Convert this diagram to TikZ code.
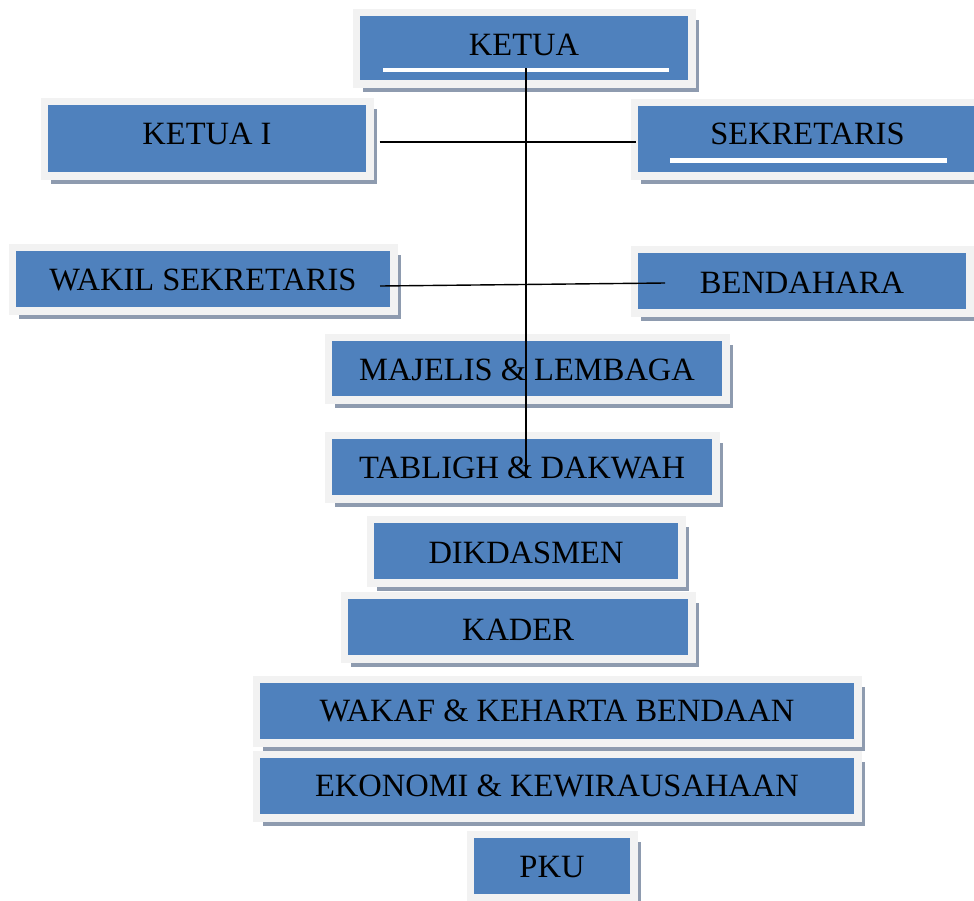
\documentclass[tikz,border=0pt]{standalone}
\usepackage{fontspec}
\usetikzlibrary{shadows}
\newfontfamily\boxfont{Liberation Serif}
\definecolor{boxblue}{HTML}{4F81BD}
\definecolor{framegray}{HTML}{F2F2F2}
\definecolor{shadowgray}{RGB}{142,155,175}
\tikzset{
  ob/.style n args={3}{rectangle, fill=boxblue, draw=framegray, line width=7.5pt,
    inner sep=0pt, minimum width=#1pt, minimum height=#2pt,
    text height=27pt, text depth=#3pt, text=black,
    font={\boxfont\fontsize{32.5}{37}\selectfont},
    general shadow={fill=shadowgray, shadow xshift=7pt, shadow yshift=-8pt}},
  link/.style={draw=black, line width=1.4pt},
  uline/.style={fill=white}
}
\begin{document}
\begin{tikzpicture}[x=1pt,y=-1pt]
\useasboundingbox (0,0) rectangle (974,900);
\node[ob={335.5}{71.5}{11.72}] (ketua) at (524,48) {KETUA};
\node[ob={325.5}{74.5}{15.72}] (ketua1) at (207,138.5) {KETUA I};
\node[ob={346.5}{73.5}{15.72}] (sek) at (807.5,139) {SEKRETARIS};
\node[ob={381.5}{63.5}{3.72}] (wakil) at (203,279) {WAKIL SEKRETARIS};
\node[ob={335.5}{63.5}{2.72}] (bend) at (802,281) {BENDAHARA};
\node[ob={397.5}{62.5}{3.72}] (majelis) at (527,368.5) {MAJELIS \& LEMBAGA};
\node[ob={387.5}{63.5}{3.72}] (tabligh) at (522,467) {TABLIGH \& DAKWAH};
\node[ob={311.5}{63.5}{2.72}] (dik) at (526,551) {DIKDASMEN};
\node[ob={347.5}{63.5}{0.72}] (kader) at (518,627) {KADER};
\node[ob={601.5}{63.5}{5.72}] (wakaf) at (557,711) {WAKAF \& KEHARTA BENDAAN};
\node[ob={601.5}{63.5}{5.72}] (ekonomi) at (557,786) {EKONOMI \& KEWIRAUSAHAAN};
\node[ob={163.5}{63.5}{3.72}] (pku) at (552,866) {PKU};
% white underlines inside boxes
\fill[uline] (383,67.5) rectangle (669,71.5);
\fill[uline] (670,158) rectangle (947,162.5);
% connectors
\draw[link] ([xshift=2pt,yshift=-20pt]ketua.center) -- ([xshift=4pt,yshift=-11pt]tabligh.center);
\draw[link] ([xshift=6pt,yshift=-3.5pt]ketua1.east) -- ([xshift=5pt,yshift=-3pt]sek.west);
\draw[link] ([xshift=-17.5pt,yshift=-7pt]wakil.east) -- ([xshift=34.5pt,yshift=-2pt]bend.west);
\end{tikzpicture}
\end{document}
